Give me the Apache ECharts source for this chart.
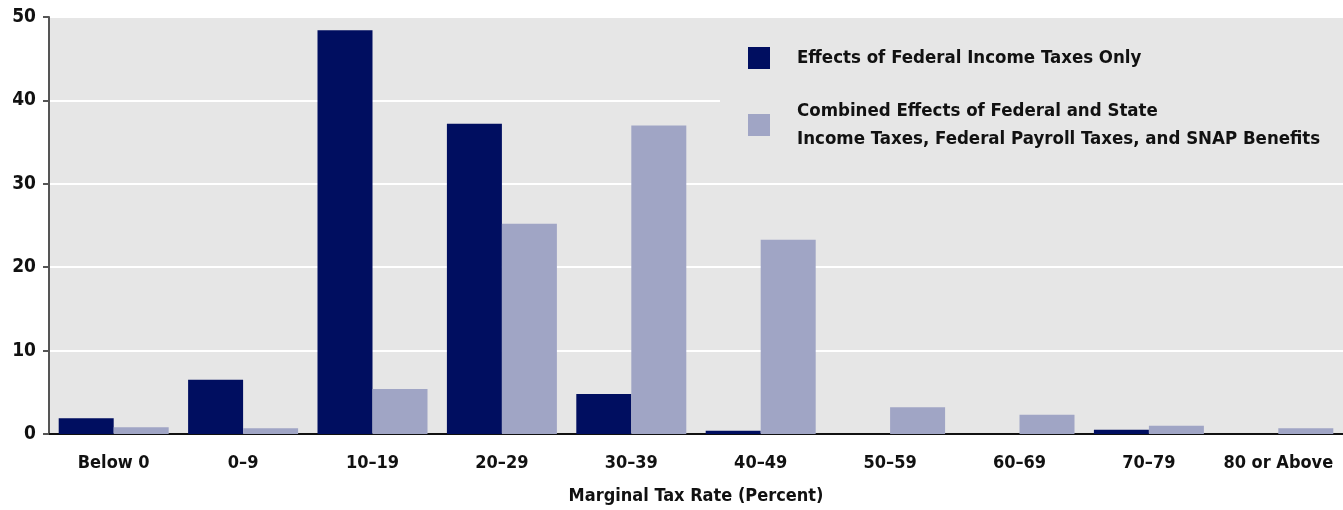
<!DOCTYPE html>
<html>
<head>
<meta charset="utf-8">
<script src="https://cdn.jsdelivr.net/npm/echarts@6/dist/echarts.min.js"></script>
<style>
  html, body { margin: 0; padding: 0; background: #fff; }
  #chart { width: 1343px; height: 510px; }
</style>
</head>
<body>
<div id="chart"></div>
<script>
// categories and values
const categories = ['Below 0', '0–9', '10–19', '20–29', '30–39', '40–49', '50–59', '60–69', '70–79', '80 or Above'];
const federalOnly = [1.9, 6.5, 48.4, 37.2, 4.8, 0.4, 0, 0, 0.5, 0];
const combined = [0.8, 0.7, 5.4, 25.2, 37.0, 23.3, 3.2, 2.3, 1.0, 0.7];
const yTicks = [0, 10, 20, 30, 40, 50];

const FONT = '"Liberation Sans Narrow", "DejaVu Sans Condensed", sans-serif';

const chart = echarts.init(document.getElementById('chart'));

const option = {
    animation: false,
    textStyle: { fontFamily: FONT },
    grid: {
        left: 49,
        right: 0,
        top: 17,
        bottom: 76,
        outerBoundsMode: 'none',
        containLabel: false,
        show: true,
        backgroundColor: '#E6E6E6',
        borderWidth: 0
    },
    legend: {
        orient: 'vertical',
        left: 720,
        top: 24,
        padding: [20, 33, 18, 28],
        backgroundColor: '#E6E6E6',
        itemWidth: 22,
        itemHeight: 22,
        itemGap: 25,
        icon: 'rect',
        textStyle: {
            fontFamily: FONT,
            fontSize: 18.5,
            fontWeight: 'bold',
            color: '#111',
            lineHeight: 28,
            padding: [0, 0, 0, 22]
        },
        data: [
            { name: 'Effects of Federal Income Taxes Only' },
            { name: 'Combined Effects of Federal and State\nIncome Taxes, Federal Payroll Taxes, and SNAP Benefits' }
        ]
    },
    xAxis: {
        type: 'category',
        data: categories,
        name: 'Marginal Tax Rate (Percent)',
        nameLocation: 'middle',
        nameGap: 53,
        nameTextStyle: { fontFamily: FONT, fontSize: 18, fontWeight: 'bold', color: '#111' },
        axisLine: { show: true, lineStyle: { color: '#111', width: 2 } },
        axisTick: { show: false },
        axisLabel: { fontFamily: FONT, fontSize: 18, fontWeight: 'bold', color: '#111', margin: 20, interval: 0 },
        splitLine: { show: false }
    },
    yAxis: {
        type: 'value',
        min: yTicks[0],
        max: yTicks[yTicks.length - 1],
        interval: 10,
        axisLine: { show: true, lineStyle: { color: '#555', width: 2 } },
        axisTick: { show: true, inside: false, length: 6, lineStyle: { color: '#555', width: 2 } },
        axisLabel: { fontFamily: FONT, fontSize: 19, fontWeight: 'bold', color: '#111', margin: 13 },
        splitLine: { show: true, lineStyle: { color: '#FFFFFF', width: 2 } }
    },
    series: [
        {
            name: 'Effects of Federal Income Taxes Only',
            type: 'bar',
            data: federalOnly,
            barGap: '0%',
            barCategoryGap: '15%',
            itemStyle: { color: '#000E60' }
        },
        {
            name: 'Combined Effects of Federal and State\nIncome Taxes, Federal Payroll Taxes, and SNAP Benefits',
            type: 'bar',
            data: combined,
            barGap: '0%',
            barCategoryGap: '15%',
            itemStyle: { color: '#A0A5C5' }
        }
    ]
};

option && chart.setOption(option);
</script>
</body>
</html>
